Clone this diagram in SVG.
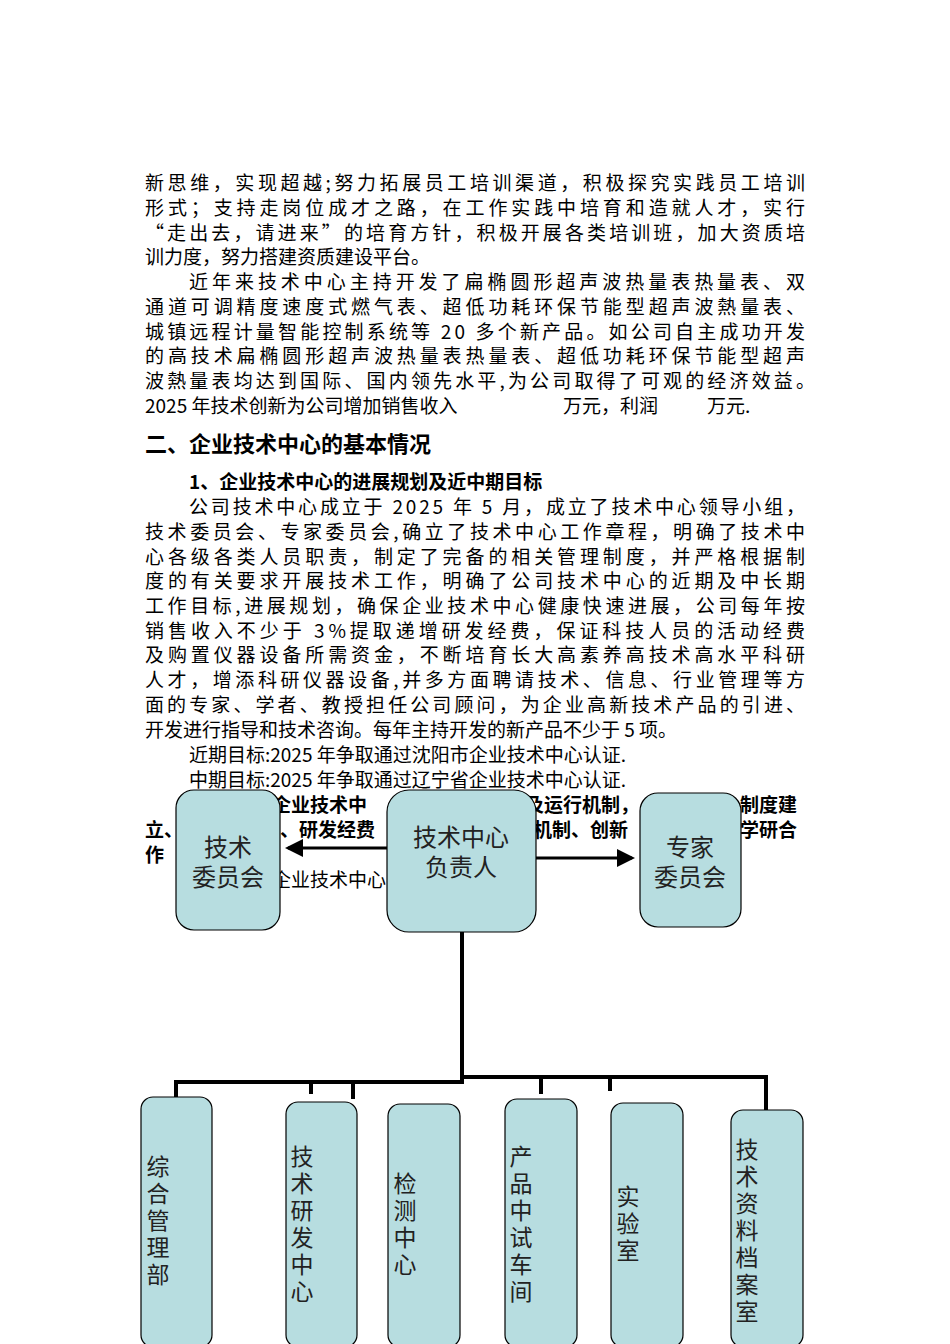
<svg xmlns="http://www.w3.org/2000/svg" width="950" height="1344" viewBox="0 0 950 1344">
<style>
.t{font-family:"Noto Sans CJK SC","Liberation Serif",serif;font-size:19px;fill:#000}
.b{font-family:"Noto Sans CJK SC","Liberation Sans",sans-serif;font-size:19px;font-weight:bold;fill:#000}
.box{fill:#b7dde0;stroke:#000;stroke-width:1.2}
.bl{font-family:"Noto Sans CJK SC","Liberation Sans",sans-serif;font-size:24px;fill:#222}
.v{font-family:"Noto Sans CJK SC","Liberation Sans",sans-serif;font-size:23px;fill:#222;writing-mode:vertical-rl;letter-spacing:4px}
.ln{stroke:#000;stroke-width:4;fill:none}
</style>
<defs><marker id="ah" markerWidth="6" markerHeight="6" refX="5" refY="3" orient="auto" markerUnits="strokeWidth"><path d="M0,0 L6,3 L0,6 z" fill="#000"/></marker></defs>
<rect width="950" height="1344" fill="#fff"/>
<g id="text">
<text class="t" x="145" y="190" textLength="660">新思维，实现超越;努力拓展员工培训渠道，积极探究实践员工培训</text>
<text class="t" x="145" y="215" textLength="660">形式；支持走岗位成才之路，在工作实践中培育和造就人才，实行</text>
<text class="t" x="145" y="240" textLength="660">“走出去，请进来”的培育方针，积极开展各类培训班，加大资质培</text>
<text class="t" x="145" y="264">训力度，努力搭建资质建设平台。</text>
<text class="t" x="189" y="289" textLength="616">近年来技术中心主持开发了扁椭圆形超声波热量表热量表、双</text>
<text class="t" x="145" y="314" textLength="660">通道可调精度速度式燃气表、超低功耗环保节能型超声波熱量表、</text>
<text class="t" x="145" y="339" textLength="660">城镇远程计量智能控制系统等 20 多个新产品。如公司自主成功开发</text>
<text class="t" x="145" y="363" textLength="660">的高技术扁椭圆形超声波热量表热量表、超低功耗环保节能型超声</text>
<text class="t" x="145" y="388" textLength="670">波熱量表均达到国际、国内领先水平,为公司取得了可观的经济效益。</text>
<text class="t" x="145" y="413">2025 年技术创新为公司增加销售收入<tspan x="563">万元，利润</tspan><tspan x="707">万元.</tspan></text>
<text class="b" x="145" y="452" style="font-size:22px">二、企业技术中心的基本情况</text>
<text class="b" x="189" y="489">1、企业技术中心的进展规划及近中期目标</text>
<text class="t" x="189" y="514" textLength="616">公司技术中心成立于 2025 年 5 月，成立了技术中心领导小组，</text>
<text class="t" x="145" y="539" textLength="660">技术委员会、专家委员会,确立了技术中心工作章程，明确了技术中</text>
<text class="t" x="145" y="564" textLength="660">心各级各类人员职责，制定了完备的相关管理制度，并严格根据制</text>
<text class="t" x="145" y="588" textLength="660">度的有关要求开展技术工作，明确了公司技术中心的近期及中长期</text>
<text class="t" x="145" y="613" textLength="660">工作目标,进展规划，确保企业技术中心健康快速进展，公司每年按</text>
<text class="t" x="145" y="638" textLength="660">销售收入不少于 3%提取递增研发经费，保证科技人员的活动经费</text>
<text class="t" x="145" y="662" textLength="660">及购置仪器设备所需资金，不断培育长大高素养高技术高水平科研</text>
<text class="t" x="145" y="687" textLength="660">人才，增添科研仪器设备,并多方面聘请技术、信息、行业管理等方</text>
<text class="t" x="145" y="712" textLength="660">面的专家、学者、教授担任公司顾问，为企业高新技术产品的引进、</text>
<text class="t" x="145" y="737">开发进行指导和技术咨询。每年主持开发的新产品不少于 5 项。</text>
<text class="t" x="189" y="762">近期目标:2025 年争取通过沈阳市企业技术中心认证.</text>
<text class="t" x="189" y="787">中期目标:2025 年争取通过辽宁省企业技术中心认证.</text>
<text class="b" x="272" y="812">企业技术中</text>
<text class="b" x="525" y="812">及运行机制，</text>
<text class="b" x="740" y="812">制度建</text>
<text class="b" x="145" y="837">立、</text>
<text class="b" x="280" y="837">、研发经费</text>
<text class="b" x="533" y="837">机制、创新</text>
<text class="b" x="740" y="837">学研合</text>
<text class="b" x="145" y="862">作</text>
<text class="t" x="272" y="887">企业技术中心</text>
</g>
<g id="connectors">
<line class="ln" x1="387" y1="848" x2="288" y2="848" marker-end="url(#ah)" style="stroke-width:3"/>
<line class="ln" x1="536" y1="858" x2="632" y2="858" marker-end="url(#ah)" style="stroke-width:3"/>
<path class="ln" d="M462,932 V1080"/>
<path class="ln" d="M176,1097 V1082 H462 V1077 H766 V1110"/>
<path class="ln" d="M311,1082 V1094 M353,1082 V1099 M541,1077 V1094 M610,1077 V1091"/>
</g>
<g id="n1"><rect class="box" x="176" y="790" width="104" height="140" rx="18"/><text class="bl" x="228" y="856" text-anchor="middle">技术</text><text class="bl" x="228" y="886" text-anchor="middle">委员会</text></g>
<g id="n2"><rect class="box" x="387" y="790" width="149" height="142" rx="22"/><text class="bl" x="461" y="846" text-anchor="middle">技术中心</text><text class="bl" x="461" y="876" text-anchor="middle">负责人</text></g>
<g id="n3"><rect class="box" x="640" y="793" width="101" height="134" rx="18"/><text class="bl" x="690" y="856" text-anchor="middle">专家</text><text class="bl" x="690" y="886" text-anchor="middle">委员会</text></g>
<g id="b1"><rect class="box" x="141" y="1097" width="71" height="250" rx="12"/><text class="v" x="158" y="1155">综合管理部</text></g>
<g id="b2"><rect class="box" x="286" y="1102" width="71" height="245" rx="12"/><text class="v" x="302" y="1145">技术研发中心</text></g>
<g id="b3"><rect class="box" x="388" y="1104" width="72" height="243" rx="12"/><text class="v" x="405" y="1172">检测中心</text></g>
<g id="b4"><rect class="box" x="505" y="1099" width="72" height="248" rx="12"/><text class="v" x="521" y="1145">产品中试车间</text></g>
<g id="b5"><rect class="box" x="611" y="1103" width="72" height="244" rx="12"/><text class="v" x="628" y="1185">实验室</text></g>
<g id="b6"><rect class="box" x="731" y="1110" width="72" height="237" rx="12"/><text class="v" x="747" y="1138">技术资料档案室</text></g>
</svg>
